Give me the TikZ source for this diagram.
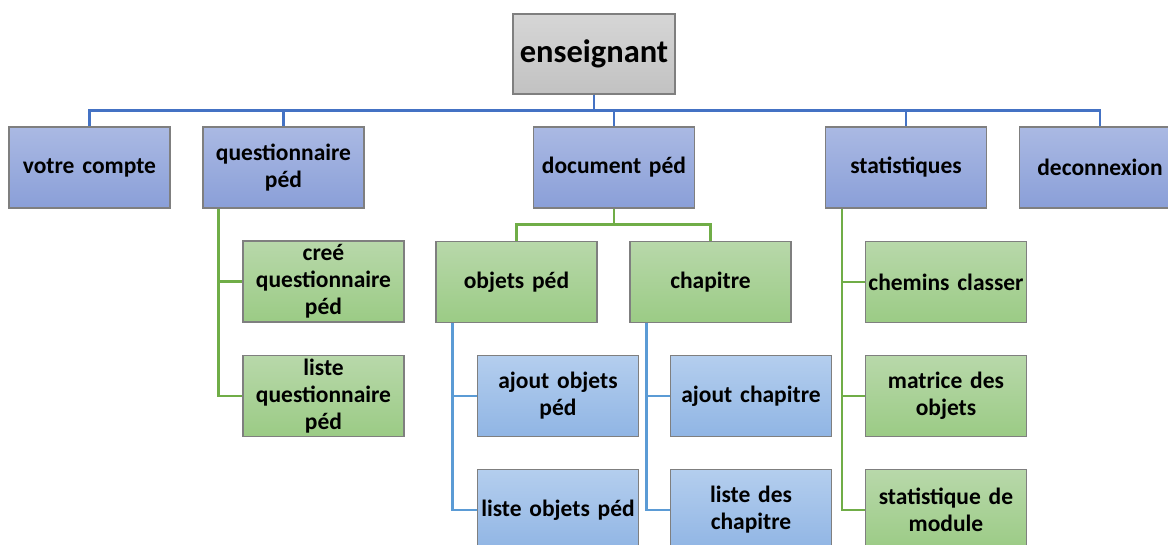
\documentclass[tikz,border=0pt]{standalone}
\usepackage{fontspec}
\setmainfont{Carlito}
\definecolor{boxborder}{HTML}{7F7F7F}
\definecolor{gtop}{HTML}{D6D6D6}
\definecolor{gbot}{HTML}{C2C2C2}
\definecolor{btop}{HTML}{AAB9E3}
\definecolor{bbot}{HTML}{8A9FD8}
\definecolor{grtop}{HTML}{B8D8AA}
\definecolor{grbot}{HTML}{9BCB85}
\definecolor{lbtop}{HTML}{B4CEEE}
\definecolor{lbbot}{HTML}{90B5E4}
\definecolor{cblue}{HTML}{4472C4}
\definecolor{cgreen}{HTML}{70AD47}
\definecolor{clblue}{HTML}{5B9BD5}
\tikzset{
  box/.style={draw=boxborder, line width=1.1pt, minimum width=161pt, minimum height=81pt,
    inner sep=0pt, align=center, text width=159pt,
    font=\fontsize{23.5}{27}\selectfont\bfseries},
  rootbox/.style={box, top color=gtop, bottom color=gbot, minimum width=162pt, minimum height=80pt,
    font=\fontsize{32.5}{36}\selectfont\bfseries},
  lvone/.style={box, top color=btop, bottom color=bbot},
  grbox/.style={box, top color=grtop, bottom color=grbot},
  lbbox/.style={box, top color=lbtop, bottom color=lbbot},
  bconn/.style={draw=cblue, line width=2.8pt},
  gconn/.style={draw=cgreen, line width=2.8pt},
  lbconn/.style={draw=clblue, line width=2.8pt},
}
\begin{document}
\begin{tikzpicture}[x=1pt,y=-1pt]
\useasboundingbox (0,0) rectangle (1168,545);
\clip (0,0) rectangle (1168,545);
% nodes
\node[rootbox] (root) at (594,54) {enseignant};
\node[lvone] (vc) at (89.5,167.5) {votre compte};
\node[lvone] (qp) at (283.5,167.5) {questionnaire\\péd};
\node[lvone] (dp) at (614,167.5) {document péd};
\node[lvone] (st) at (906,167.5) {statistiques};
\node[lvone] (dc) at (1100,167.5) {deconnexion};
\node[grbox] (cq) at (323.5,281.5) {creé\\questionnaire\\péd};
\node[grbox] (lq) at (323.5,396) {liste\\questionnaire\\péd};
\node[grbox] (op) at (516.5,282) {objets péd};
\node[grbox] (ch) at (710.5,282) {chapitre};
\node[lbbox] (ao) at (558,396) {ajout objets\\péd};
\node[lbbox] (lo) at (558,510) {liste objets péd};
\node[lbbox] (ac) at (751,396) {ajout chapitre};
\node[lbbox] (lc) at (751,510) {liste des\\chapitre};
\node[grbox] (cc) at (946,282) {chemins classer};
\node[grbox] (mo) at (946,396) {matrice des\\objets};
\node[grbox] (sm) at (946,510) {statistique de\\module};
% connectors
\foreach \c in {vc,qp,dp,st,dc}
  \draw[bconn] (root.south) -- ++(0,16) -| (\c.north);
\foreach \c in {cq,lq}
  \draw[gconn] ([xshift=16pt]qp.south west) |- (\c.west);
\foreach \c in {op,ch}
  \draw[gconn] (dp.south) -- ++(0,16) -| (\c.north);
\foreach \c in {ao,lo}
  \draw[lbconn] ([xshift=17pt]op.south west) |- (\c.west);
\foreach \c in {ac,lc}
  \draw[lbconn] ([xshift=17pt]ch.south west) |- (\c.west);
\foreach \c in {cc,mo,sm}
  \draw[gconn] ([xshift=17pt]st.south west) |- (\c.west);
\end{tikzpicture}
\end{document}
